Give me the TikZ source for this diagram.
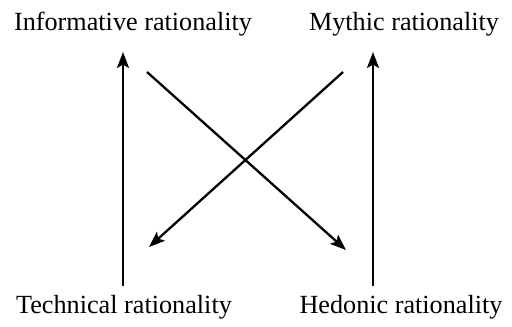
\documentclass[tikz,border=0pt]{standalone}
\usepackage{fontspec}
\setmainfont{Liberation Serif}
\usetikzlibrary{arrows.meta}
\begin{document}
\begin{tikzpicture}[x=1pt,y=-1pt,
  lbl/.style={font=\fontsize{26.2}{29}\selectfont, inner sep=0pt, anchor=base},
  arr/.style={line width=2.3pt, -{Stealth[length=16pt,width=12pt,inset=3.5pt]}}]
\useasboundingbox (0,0) rectangle (512,327);
\node[lbl] (inf) at (133,30) {Informative rationality};
\node[lbl] (myt) at (404,30) {Mythic rationality};
\node[lbl] (tec) at (124,313) {Technical rationality};
\node[lbl] (hed) at (401,313) {Hedonic rationality};
\coordinate (lb) at (123,286);
\coordinate (lt) at (123,52);
\coordinate (rb) at (373,286);
\coordinate (rt) at (373,52);
\coordinate (d1s) at (147,72);
\coordinate (d1e) at (346,250);
\coordinate (d2s) at (343,72);
\coordinate (d2e) at (149,247);
\draw[arr] (lb) -- (lt);
\draw[arr] (rb) -- (rt);
\draw[arr] (d1s) -- (d1e);
\draw[arr] (d2s) -- (d2e);
\end{tikzpicture}
\end{document}
